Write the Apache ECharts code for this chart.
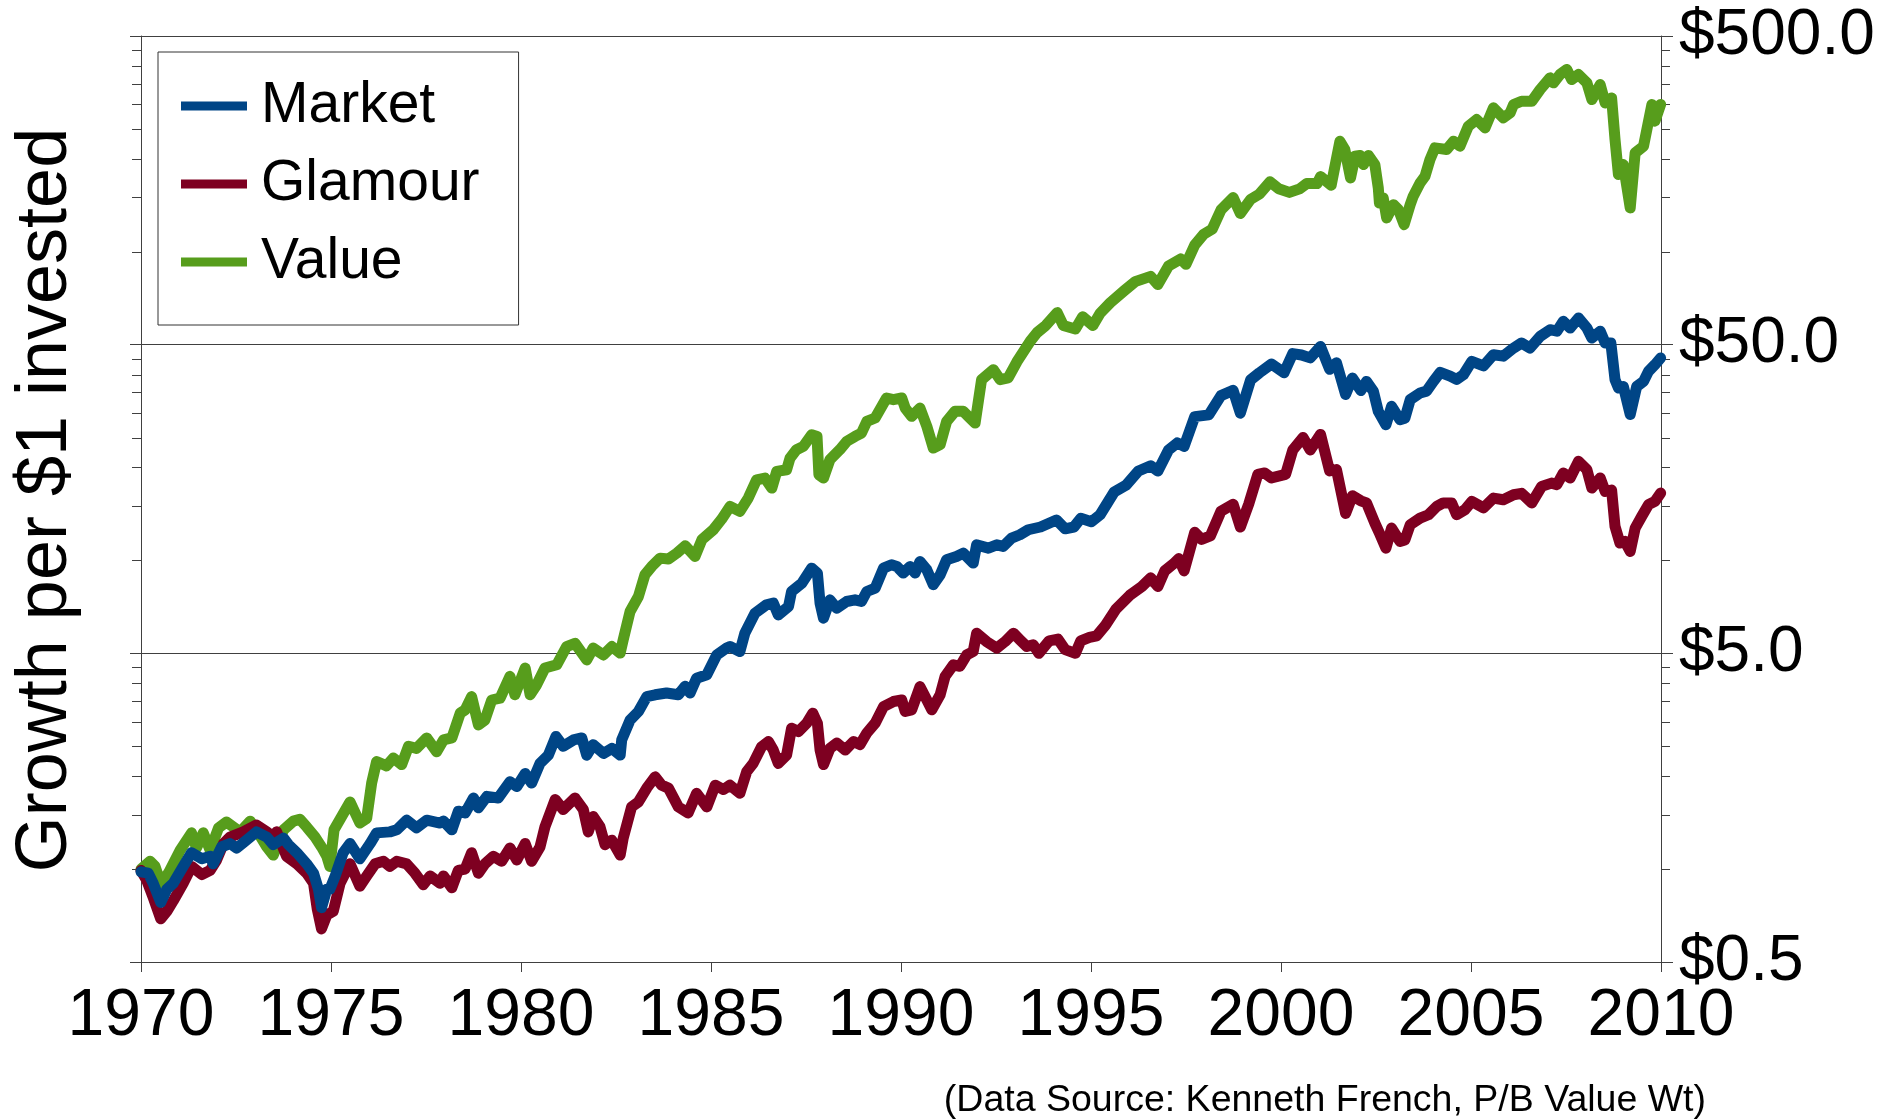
<!DOCTYPE html>
<html>
<head>
<meta charset="utf-8">
<title>Growth per $1 invested</title>
<script src="https://cdn.jsdelivr.net/npm/echarts@6/dist/echarts.min.js"></script>
<style>
html, body { margin: 0; padding: 0; background: #fff; }
#main { width: 1895px; height: 1120px; }
</style>
</head>
<body>
<div id="main"></div>
<script>
var FONT = '"Liberation Sans", Arial, Helvetica, sans-serif';

// axes
var yearMin = 1970, yearMax = 2010, yearStep = 5;
var majorTicks = [0.5, 5, 50, 500];
var minorTicks = [1, 1.5, 2, 2.5, 3, 3.5, 4, 4.5,
                  10, 15, 20, 25, 30, 35, 40, 45,
                  100, 150, 200, 250, 300, 350, 400, 450];

var seriesNames = ['Market', 'Glamour', 'Value'];

// growth of $1, [year, value]
var market = [
  [1970.00,0.98],[1970.19,0.97],[1970.32,0.90],[1970.52,0.78],[1970.68,0.86],[1970.85,0.90],[1971.11,1.02],
  [1971.33,1.13],[1971.60,1.08],[1971.82,1.10],[1971.90,1.04],[1972.12,1.18],[1972.34,1.21],[1972.52,1.17],
  [1972.74,1.23],[1973.04,1.32],[1973.31,1.27],[1973.48,1.20],[1973.75,1.26],[1973.88,1.20],[1974.10,1.13],
  [1974.36,1.04],[1974.54,0.97],[1974.67,0.86],[1974.75,0.75],[1974.89,0.86],[1974.97,0.86],[1975.11,0.95],
  [1975.32,1.13],[1975.50,1.21],[1975.76,1.08],[1976.03,1.21],[1976.20,1.31],[1976.55,1.32],[1976.73,1.34],
  [1976.99,1.44],[1977.25,1.36],[1977.52,1.44],[1977.87,1.41],[1977.96,1.43],[1978.18,1.34],[1978.35,1.54],
  [1978.53,1.52],[1978.75,1.70],[1978.88,1.58],[1979.10,1.72],[1979.40,1.70],[1979.71,1.92],[1979.89,1.85],
  [1980.11,2.04],[1980.28,1.90],[1980.50,2.20],[1980.72,2.34],[1980.92,2.69],[1981.11,2.50],[1981.38,2.62],
  [1981.60,2.66],[1981.73,2.34],[1981.90,2.53],[1982.17,2.37],[1982.39,2.46],[1982.61,2.34],[1982.65,2.62],
  [1982.87,3.04],[1983.09,3.24],[1983.31,3.62],[1983.53,3.67],[1983.83,3.72],[1984.14,3.67],[1984.32,3.91],
  [1984.45,3.72],[1984.62,4.15],[1984.89,4.26],[1985.15,4.94],[1985.41,5.20],[1985.50,5.26],[1985.76,5.07],
  [1985.89,5.81],[1986.16,6.75],[1986.46,7.18],[1986.64,7.27],[1986.77,6.66],[1987.04,7.09],[1987.12,7.93],
  [1987.39,8.44],[1987.65,9.44],[1987.80,9.10],[1987.87,7.27],[1987.96,6.50],[1988.13,7.45],[1988.31,7.00],
  [1988.57,7.36],[1988.79,7.45],[1988.96,7.36],[1989.10,7.93],[1989.32,8.13],[1989.54,9.44],[1989.75,9.68],
  [1989.89,9.56],[1990.06,9.10],[1990.24,9.56],[1990.37,9.10],[1990.50,9.92],[1990.68,9.32],[1990.85,8.34],
  [1991.03,8.98],[1991.20,10.05],[1991.46,10.30],[1991.64,10.56],[1991.90,9.80],[1991.99,11.23],[1992.30,10.96],
  [1992.52,11.23],[1992.69,11.10],[1992.91,11.81],[1993.13,12.11],[1993.35,12.57],[1993.67,12.83],[1994.09,13.52],
  [1994.32,12.66],[1994.55,12.83],[1994.73,13.69],[1995.01,13.34],[1995.24,14.06],[1995.61,16.66],[1995.93,17.56],
  [1996.25,19.49],[1996.57,20.27],[1996.76,19.49],[1997.04,22.80],[1997.27,24.02],[1997.45,23.40],[1997.73,29.23],
  [1998.10,29.61],[1998.42,34.20],[1998.74,35.55],[1998.93,30.00],[1999.20,38.46],[1999.43,40.52],[1999.75,43.26],
  [2000.08,40.52],[2000.31,46.79],[2000.54,46.30],[2000.77,45.30],[2001.04,49.31],[2001.28,41.60],[2001.46,43.70],
  [2001.70,34.50],[2001.88,39.00],[2002.10,35.50],[2002.25,38.00],[2002.43,35.35],[2002.56,30.40],[2002.76,27.50],
  [2002.91,31.56],[2003.13,28.57],[2003.26,28.90],[2003.40,33.17],[2003.66,34.86],[2003.83,35.35],[2004.01,38.03],
  [2004.19,40.67],[2004.45,39.55],[2004.62,38.60],[2004.80,39.96],[2005.02,44.15],[2005.33,42.70],[2005.59,46.40],
  [2005.85,45.90],[2006.12,48.76],[2006.33,50.63],[2006.55,48.76],[2006.82,53.20],[2007.08,55.90],[2007.26,55.30],
  [2007.43,59.50],[2007.61,56.60],[2007.83,61.00],[2008.05,56.60],[2008.18,52.56],[2008.40,55.30],[2008.53,50.63],
  [2008.68,50.63],[2008.79,38.50],[2008.88,36.19],[2009.01,36.60],[2009.19,29.70],[2009.36,36.60],[2009.54,38.03],
  [2009.67,40.97],[2009.84,43.06],[2009.99,45.26]
];

var glamour = [
  [1970.00,0.99],[1970.15,0.92],[1970.32,0.81],[1970.52,0.69],[1970.68,0.73],[1970.85,0.79],[1971.11,0.90],
  [1971.33,1.02],[1971.60,0.96],[1971.82,0.99],[1971.99,1.07],[1972.17,1.21],[1972.34,1.27],[1972.69,1.32],
  [1973.04,1.39],[1973.31,1.32],[1973.48,1.27],[1973.57,1.32],[1973.83,1.10],[1974.10,1.04],[1974.36,0.97],
  [1974.54,0.90],[1974.64,0.74],[1974.75,0.64],[1974.89,0.71],[1975.06,0.73],[1975.24,0.90],[1975.50,1.04],
  [1975.76,0.88],[1975.94,0.95],[1976.16,1.04],[1976.38,1.06],[1976.55,1.02],[1976.73,1.06],[1976.99,1.04],
  [1977.21,0.97],[1977.43,0.89],[1977.61,0.95],[1977.87,0.90],[1977.96,0.95],[1978.18,0.87],[1978.35,0.99],
  [1978.53,1.00],[1978.70,1.13],[1978.88,0.97],[1979.05,1.04],[1979.27,1.10],[1979.49,1.06],[1979.71,1.17],
  [1979.89,1.07],[1980.11,1.21],[1980.28,1.06],[1980.50,1.18],[1980.63,1.37],[1980.90,1.68],[1981.11,1.56],
  [1981.42,1.70],[1981.64,1.56],[1981.77,1.32],[1981.90,1.48],[1982.08,1.37],[1982.21,1.20],[1982.39,1.24],
  [1982.61,1.11],[1982.69,1.26],[1982.91,1.59],[1983.09,1.65],[1983.31,1.83],[1983.53,1.99],[1983.70,1.87],
  [1983.88,1.83],[1984.14,1.59],[1984.40,1.52],[1984.62,1.76],[1984.89,1.59],[1985.11,1.87],[1985.33,1.81],
  [1985.50,1.87],[1985.76,1.76],[1985.94,2.07],[1986.11,2.20],[1986.33,2.49],[1986.51,2.59],[1986.64,2.43],
  [1986.77,2.20],[1986.99,2.34],[1987.12,2.86],[1987.30,2.79],[1987.52,2.97],[1987.68,3.20],[1987.80,2.97],
  [1987.87,2.43],[1987.96,2.18],[1988.13,2.46],[1988.31,2.56],[1988.53,2.43],[1988.75,2.59],[1988.92,2.53],
  [1989.10,2.76],[1989.32,2.97],[1989.54,3.36],[1989.80,3.49],[1990.02,3.53],[1990.11,3.24],[1990.28,3.28],
  [1990.50,3.90],[1990.68,3.53],[1990.81,3.28],[1991.03,3.67],[1991.16,4.21],[1991.38,4.59],[1991.55,4.54],
  [1991.73,4.94],[1991.90,5.07],[1991.99,5.81],[1992.25,5.46],[1992.52,5.20],[1992.74,5.46],[1992.96,5.81],
  [1993.13,5.53],[1993.31,5.26],[1993.48,5.33],[1993.63,5.00],[1993.90,5.49],[1994.13,5.56],[1994.32,5.14],
  [1994.59,5.00],[1994.73,5.49],[1994.96,5.63],[1995.15,5.70],[1995.38,6.17],[1995.65,6.94],[1996.02,7.71],
  [1996.34,8.23],[1996.57,8.78],[1996.76,8.23],[1996.94,9.25],[1997.17,9.75],[1997.31,10.14],[1997.45,9.25],
  [1997.73,12.34],[1997.91,11.70],[1998.14,12.00],[1998.42,14.43],[1998.74,15.21],[1998.93,12.83],[1999.15,15.21],
  [1999.39,18.99],[1999.57,19.20],[1999.75,18.50],[2000.12,18.99],[2000.31,22.80],[2000.58,25.00],[2000.77,22.80],
  [2001.04,25.60],[2001.28,19.49],[2001.46,19.70],[2001.70,14.20],[2001.88,16.20],[2002.10,15.60],[2002.25,15.36],
  [2002.47,13.21],[2002.61,12.11],[2002.76,10.96],[2002.91,12.73],[2003.13,11.52],[2003.26,11.65],[2003.40,13.05],
  [2003.66,13.71],[2003.88,14.06],[2004.10,14.96],[2004.27,15.36],[2004.49,15.36],[2004.62,14.06],[2004.84,14.60],
  [2005.02,15.53],[2005.33,14.80],[2005.59,15.92],[2005.85,15.72],[2006.12,16.32],[2006.33,16.50],[2006.60,15.36],
  [2006.86,17.37],[2007.12,17.80],[2007.26,17.60],[2007.43,19.19],[2007.61,18.50],[2007.83,20.94],[2008.05,19.67],
  [2008.18,17.15],[2008.40,18.50],[2008.53,16.73],[2008.70,16.90],[2008.79,12.89],[2008.92,11.38],[2009.05,11.52],
  [2009.19,10.69],[2009.32,12.73],[2009.49,13.88],[2009.67,15.15],[2009.84,15.53],[2009.99,16.52]
];

var value = [
  [1970.00,1.00],[1970.24,1.06],[1970.37,1.02],[1970.52,0.90],[1970.72,0.97],[1971.03,1.15],[1971.33,1.31],
  [1971.46,1.17],[1971.64,1.31],[1971.82,1.15],[1972.04,1.36],[1972.25,1.42],[1972.43,1.37],[1972.61,1.32],
  [1972.87,1.43],[1973.04,1.34],[1973.31,1.18],[1973.48,1.11],[1973.75,1.34],[1974.01,1.43],[1974.18,1.45],
  [1974.36,1.37],[1974.58,1.27],[1974.75,1.18],[1974.89,1.10],[1974.97,1.02],[1975.08,1.34],[1975.50,1.65],
  [1975.76,1.41],[1975.94,1.46],[1976.07,1.90],[1976.20,2.23],[1976.46,2.16],[1976.64,2.29],[1976.86,2.18],
  [1977.04,2.50],[1977.25,2.46],[1977.52,2.66],[1977.78,2.40],[1977.96,2.62],[1978.18,2.66],[1978.40,3.20],
  [1978.53,3.28],[1978.70,3.62],[1978.88,2.93],[1979.05,3.04],[1979.23,3.53],[1979.45,3.58],[1979.71,4.21],
  [1979.84,3.67],[1980.11,4.48],[1980.24,3.67],[1980.41,3.95],[1980.63,4.48],[1980.94,4.59],[1981.20,5.26],
  [1981.42,5.39],[1981.73,4.76],[1981.90,5.20],[1982.17,4.94],[1982.39,5.26],[1982.61,5.01],[1982.69,5.53],
  [1982.87,6.83],[1983.09,7.64],[1983.26,8.98],[1983.44,9.56],[1983.66,10.17],[1983.88,10.10],[1984.10,10.56],
  [1984.32,11.15],[1984.58,10.30],[1984.76,11.67],[1985.06,12.57],[1985.28,13.60],[1985.50,14.96],[1985.76,14.41],
  [1985.98,15.92],[1986.20,18.25],[1986.42,18.48],[1986.60,17.15],[1986.73,19.43],[1986.99,19.67],[1987.08,21.46],
  [1987.25,22.84],[1987.43,23.41],[1987.65,25.54],[1987.79,25.20],[1987.84,18.95],[1987.96,18.48],[1988.13,21.20],
  [1988.39,22.84],[1988.57,24.30],[1988.79,25.22],[1988.96,25.86],[1989.10,28.20],[1989.32,28.93],[1989.62,33.59],
  [1989.80,33.17],[1990.02,33.59],[1990.11,31.16],[1990.28,29.29],[1990.50,31.16],[1990.68,27.19],[1990.85,23.12],
  [1991.03,23.71],[1991.20,28.20],[1991.42,30.40],[1991.64,30.40],[1991.77,29.29],[1991.95,27.86],[1992.12,38.50],
  [1992.43,41.50],[1992.61,38.50],[1992.82,39.00],[1993.05,44.00],[1993.40,51.30],[1993.58,54.70],[1993.81,57.70],
  [1994.11,63.50],[1994.27,57.70],[1994.59,56.20],[1994.78,61.60],[1995.05,57.70],[1995.24,63.20],[1995.51,68.40],
  [1995.88,74.90],[1996.16,80.00],[1996.57,83.20],[1996.76,78.30],[1997.04,89.90],[1997.36,94.80],[1997.50,91.10],
  [1997.73,105.2],[1997.96,113.8],[1998.19,118.4],[1998.42,136.6],[1998.74,149.8],[1998.93,133.1],[1999.20,147.8],
  [1999.43,153.7],[1999.71,168.5],[1999.94,159.9],[2000.22,155.7],[2000.49,159.9],[2000.68,166.3],[2000.95,166.3],
  [2001.04,175.2],[2001.32,164.1],[2001.55,228.1],[2001.68,214.4],[2001.83,173.5],[2001.95,203.9],[2002.08,205.1],
  [2002.17,191.6],[2002.30,205.1],[2002.47,191.6],[2002.56,161.0],[2002.59,143.9],[2002.69,149.4],[2002.78,128.7],
  [2002.96,142.1],[2003.09,136.9],[2003.24,122.4],[2003.40,142.1],[2003.48,151.3],[2003.66,167.1],[2003.79,175.6],
  [2003.92,198.9],[2004.05,217.0],[2004.36,214.4],[2004.54,228.1],[2004.71,219.8],[2004.93,255.1],[2005.15,268.1],
  [2005.37,251.9],[2005.59,292.5],[2005.85,271.5],[2006.03,281.8],[2006.12,299.9],[2006.33,307.4],[2006.60,307.4],
  [2006.82,335.4],[2007.08,365.9],[2007.17,352.5],[2007.34,375.1],[2007.52,389.4],[2007.65,361.4],[2007.83,375.1],
  [2008.05,352.5],[2008.18,311.2],[2008.40,348.0],[2008.53,303.6],[2008.70,315.1],[2008.79,230.9],[2008.88,177.8],
  [2009.01,191.6],[2009.19,138.7],[2009.32,209.1],[2009.54,219.8],[2009.76,299.9],[2009.84,264.8],[2009.99,299.9]
];

var colors = {Market: '#004586', Glamour: '#7e0021', Value: '#579d1c'};
var axisColor = '#404040';

function lineSeries(name, data) {
    return {
        name: name,
        type: 'line',
        yAxisIndex: 0,
        data: data,
        showSymbol: false,
        symbol: 'none',
        silent: true,
        itemStyle: {color: colors[name]},
        lineStyle: {color: colors[name], width: 11, cap: 'round', join: 'round'},
        emphasis: {disabled: true}
    };
}

// small ticks on both sides of the plot, placed through the log axis
var minorTickSeries = {
    type: 'custom',
    silent: true,
    clip: false,
    yAxisIndex: 0,
    data: minorTicks.map(function (v) { return [yearMin, v]; }),
    renderItem: function (params, api) {
        var l = api.coord([yearMin, api.value(1)]);
        var r = api.coord([yearMax, api.value(1)]);
        var y = Math.round(l[1]) + 0.5;
        var st = {stroke: axisColor, lineWidth: 1};
        return {
            type: 'group',
            children: [
                {type: 'line', shape: {x1: l[0] - 9, y1: y, x2: l[0], y2: y}, style: st},
                {type: 'line', shape: {x1: r[0], y1: y, x2: r[0] + 9, y2: y}, style: st}
            ]
        };
    }
};

var chart = echarts.init(document.getElementById('main'));

var option = {
    backgroundColor: '#fff',
    animation: false,
    textStyle: {fontFamily: FONT},
    grid: {left: 141, top: 36, width: 1520, height: 926},
    legend: {
        data: seriesNames,
        orient: 'vertical',
        left: 158,
        top: 52,
        padding: [24, 39, 33, 23],
        itemGap: 18,
        itemWidth: 66,
        itemHeight: 9,
        icon: 'rect',
        borderColor: '#333',
        borderWidth: 1,
        backgroundColor: '#fff',
        selectedMode: false,
        textStyle: {fontSize: 57, lineHeight: 52, color: '#000', fontFamily: FONT, padding: [8, 0, 0, 9]}
    },
    xAxis: {
        type: 'value',
        min: yearMin,
        max: yearMax,
        interval: yearStep,
        axisLine: {show: true, lineStyle: {color: axisColor, width: 1}},
        axisTick: {show: true, length: 10, lineStyle: {color: axisColor}},
        axisLabel: {
            fontSize: 66, color: '#000', margin: 22, fontFamily: FONT,
            formatter: function (v) { return String(Math.round(v)); }
        },
        splitLine: {show: false}
    },
    yAxis: [
        {
            type: 'log',
            logBase: 10,
            min: 0.5,
            max: 500,
            position: 'right',
            axisLine: {show: true, lineStyle: {color: axisColor, width: 1}},
            axisTick: {show: true, length: 12, customValues: majorTicks, lineStyle: {color: axisColor}},
            axisLabel: {
                customValues: majorTicks,
                fontSize: 64,
                color: '#000',
                margin: 18,
                fontFamily: FONT,
                formatter: function (v) { return '$' + Number(v).toFixed(1); }
            },
            splitLine: {show: true, lineStyle: {color: axisColor, width: 1}}
        },
        {
            type: 'log',
            logBase: 10,
            min: 0.5,
            max: 500,
            position: 'left',
            axisLine: {show: true, lineStyle: {color: axisColor, width: 1}},
            axisTick: {show: true, length: 11, customValues: majorTicks, lineStyle: {color: axisColor}},
            axisLabel: {show: false},
            splitLine: {show: false}
        }
    ],
    graphic: [
        {
            type: 'text',
            x: 46,
            y: 500,
            rotation: Math.PI / 2,
            style: {text: 'Growth per $1 invested', fontSize: 72, fontFamily: FONT, fill: '#000',
                    align: 'center', verticalAlign: 'middle'}
        },
        {
            type: 'text',
            x: 1706,
            y: 1101,
            style: {text: '(Data Source: Kenneth French, P/B Value Wt)', fontSize: 37.5, fontFamily: FONT,
                    fill: '#000', align: 'right', verticalAlign: 'middle'}
        }
    ],
    series: [
        minorTickSeries,
        lineSeries('Value', value),
        lineSeries('Glamour', glamour),
        lineSeries('Market', market)
    ]
};

chart.setOption(option);
</script>
</body>
</html>
